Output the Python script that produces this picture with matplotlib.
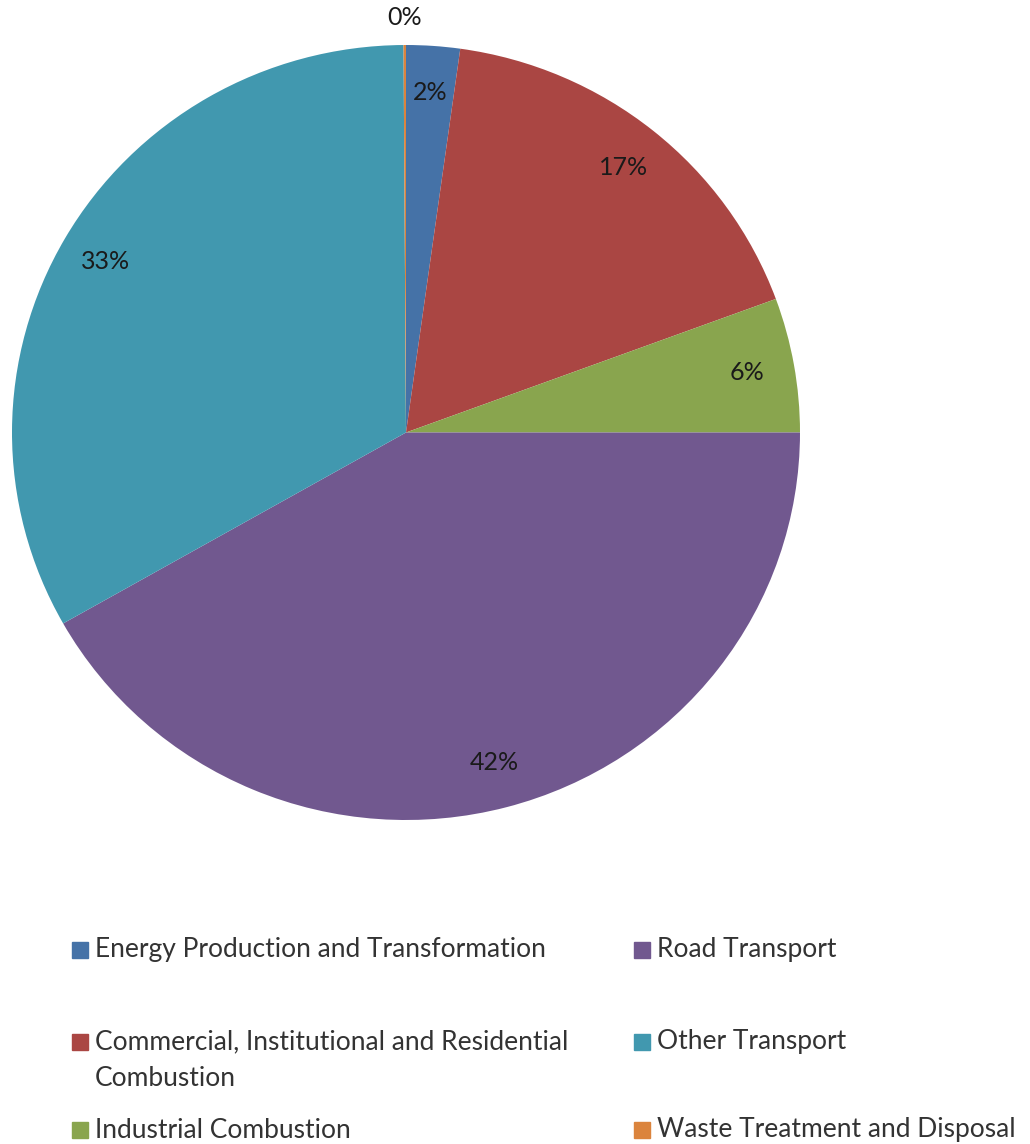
import numpy as np
import matplotlib.pyplot as plt
from matplotlib.patches import Rectangle

plt.rcParams['font.family'] = ['Lato', 'DejaVu Sans']

# sectors, clockwise from 12 o'clock
sectors = ['Energy Production and Transformation',
           'Commercial, Institutional and Residential\nCombustion',
           'Industrial Combustion',
           'Road Transport',
           'Other Transport',
           'Waste Treatment and Disposal']
shares = [2.2, 17.2, 5.6, 41.8, 33.1, 0.1]
pct_labels = ['2%', '17%', '6%', '42%', '33%', '0%']
colors = ['#4572A7', '#AA4643', '#89A54E', '#71588F', '#4198AF', '#DB843D']

W, H = 1030, 1144
fig = plt.figure(figsize=(W / 100, H / 100), dpi=100)
ax = fig.add_axes([12 / W, 324 / H, 788 / W, 775 / H])
wedges, _ = ax.pie(shares, colors=colors, startangle=90, counterclock=False,
                   radius=1.0, wedgeprops=dict(linewidth=0))
ax.set_xlim(-1, 1)
ax.set_ylim(-1, 1)
ax.set_aspect('auto')
ax.axis('off')

# percentage labels inside slices, tiny one outside
for w, lab in zip(wedges, pct_labels):
    mid = np.deg2rad((w.theta1 + w.theta2) / 2)
    r = 1.07 if lab == '0%' else 0.88
    ax.text(r * np.cos(mid), r * np.sin(mid), lab, ha='center', va='center',
            fontsize=18, color='#1a1a1a', clip_on=False)

# legend laid out by hand, two columns
col_x = [72 / W, 634 / W]
row_y = [950, 1042, 1130]
sz = 16
for i, (name, c) in enumerate(zip(sectors, colors)):
    cx = col_x[i // 3]
    cy = 1 - row_y[i % 3] / H
    fig.add_artist(Rectangle((cx, cy - sz / 2 / H), sz / W, sz / H,
                             transform=fig.transFigure, color=c))
    for k, line in enumerate(name.split('\n')):
        fig.text(cx + 23 / W, cy - k * 36 / H, line, ha='left', va='center',
                 fontsize=19, color='#333333')

fig.savefig('out.png', dpi=100)
